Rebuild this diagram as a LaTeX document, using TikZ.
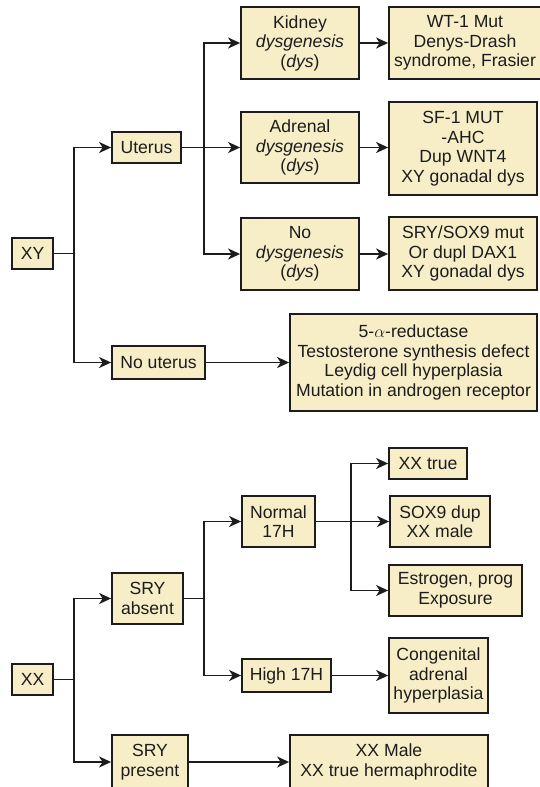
\documentclass[tikz,border=0pt]{standalone}
\usepackage{fontspec}
\setmainfont{Liberation Sans}
\usetikzlibrary{arrows.meta}
\definecolor{boxfill}{RGB}{247,238,200}
\definecolor{ink}{RGB}{28,28,28}
\begin{document}
\begin{tikzpicture}[x=1pt,y=-1pt,
  bx/.style={draw=ink,fill=boxfill,line width=1.8pt,align=center,inner sep=0pt,
    font=\fontsize{17.6}{19.5}\selectfont,text=ink},
  ln/.style={draw=ink,line width=1.8pt},
  arr/.style={ln,-{Stealth[length=12pt,width=11pt,inset=3.5pt]}}]
\useasboundingbox (0,0) rectangle (539,787);
% ---------- XY ----------
\node[bx,minimum width=41pt,minimum height=31pt] (XY) at (32.5,253.5) {XY};
\node[bx,minimum width=69pt,minimum height=31pt] (Ut) at (146.5,147.5) {Uterus};
\node[bx,minimum width=93pt,minimum height=33pt] (NoUt) at (158.5,362.5) {No uterus};
\node[bx,minimum width=118pt,minimum height=72pt] (Kid) at (300,43) {Kidney\\\textit{dysgenesis}\\(\textit{dys})};
\node[bx,minimum width=118pt,minimum height=71pt] (Adr) at (300,147.5) {Adrenal\\\textit{dysgenesis}\\(\textit{dys})};
\node[bx,minimum width=118pt,minimum height=72pt] (NoD) at (300,254) {No\\\textit{dysgenesis}\\(\textit{dys})};
\node[bx,minimum width=152pt,minimum height=72pt] (R1) at (465,43) {WT-1 Mut\\Denys-Drash\\syndrome, Frasier};
\node[bx,minimum width=148pt,minimum height=93pt] (R2) at (463,148.5) {SF-1 MUT\\-AHC\\Dup WNT4\\XY gonadal dys};
\node[bx,minimum width=148pt,minimum height=73pt] (R3) at (463,253.5) {SRY/SOX9 mut\\Or dupl DAX1\\XY gonadal dys};
\node[bx,minimum width=247pt,minimum height=97pt] (Big) at (413.5,362.5) {5-$\alpha$-reductase\\Testosterone synthesis defect\\Leydig cell hyperplasia\\Mutation in androgen receptor};
\coordinate (j1) at (74,253.5);
\coordinate (j2) at (204,147.5);
\draw[ln] (XY.east) -- (j1);
\draw[arr] (j1) |- (Ut.west);
\draw[arr] (j1) |- (NoUt.west);
\draw[arr] (Ut.east) -- (Adr.west);
\draw[arr] (j2) |- (Kid.west);
\draw[arr] (j2) |- (NoD.west);
\draw[arr] (Kid.east) -- (Kid.east -| R1.west);
\draw[arr] (Adr.east) -- (Adr.east -| R2.west);
\draw[arr] (NoD.east) -- (NoD.east -| R3.west);
\draw[arr] (NoUt.east) -- (NoUt.east -| Big.west);
% ---------- XX ----------
\node[bx,minimum width=41pt,minimum height=31pt] (XX) at (32.5,679.5) {XX};
\node[bx,minimum width=71pt,minimum height=51pt] (Sa) at (147.5,598.5) {SRY\\absent};
\node[bx,minimum width=76pt,minimum height=54pt] (Sp) at (150,762) {SRY\\present};
\node[bx,minimum width=73pt,minimum height=51pt] (N17) at (278.5,521.5) {Normal\\17H};
\node[bx,minimum width=89pt,minimum height=33pt] (H17) at (286.5,675.5) {High 17H};
\node[bx,minimum width=78pt,minimum height=31pt] (XXt) at (428,463.5) {XX true};
\node[bx,minimum width=100pt,minimum height=51pt] (Sox) at (440,521.5) {SOX9 dup\\XX male};
\node[bx,minimum width=133pt,minimum height=51pt] (Est) at (455.5,590.5) {Estrogen, prog\\Exposure};
\node[bx,minimum width=99pt,minimum height=75pt] (Cah) at (438.5,675.5) {Congenital\\adrenal\\hyperplasia};
\node[bx,minimum width=198pt,minimum height=54pt] (XXm) at (389,762) {XX Male\\XX true hermaphrodite};
\coordinate (j3) at (74,679.5);
\coordinate (j4) at (204,598.5);
\coordinate (j5) at (351,521.5);
\draw[ln] (XX.east) -- (j3);
\draw[arr] (j3) |- (Sa.west);
\draw[arr] (j3) |- (Sp.west);
\draw[ln] (Sa.east) -- (j4);
\draw[arr] (j4) |- (N17.west);
\draw[arr] (j4) |- (H17.west);
\draw[arr] (N17.east) -- (Sox.west);
\draw[arr] (j5) |- (XXt.west);
\draw[arr] (j5) |- (Est.west);
\draw[arr] (H17.east) -- (H17.east -| Cah.west);
\draw[arr] (Sp.east) -- (XXm.west);
\end{tikzpicture}
\end{document}
